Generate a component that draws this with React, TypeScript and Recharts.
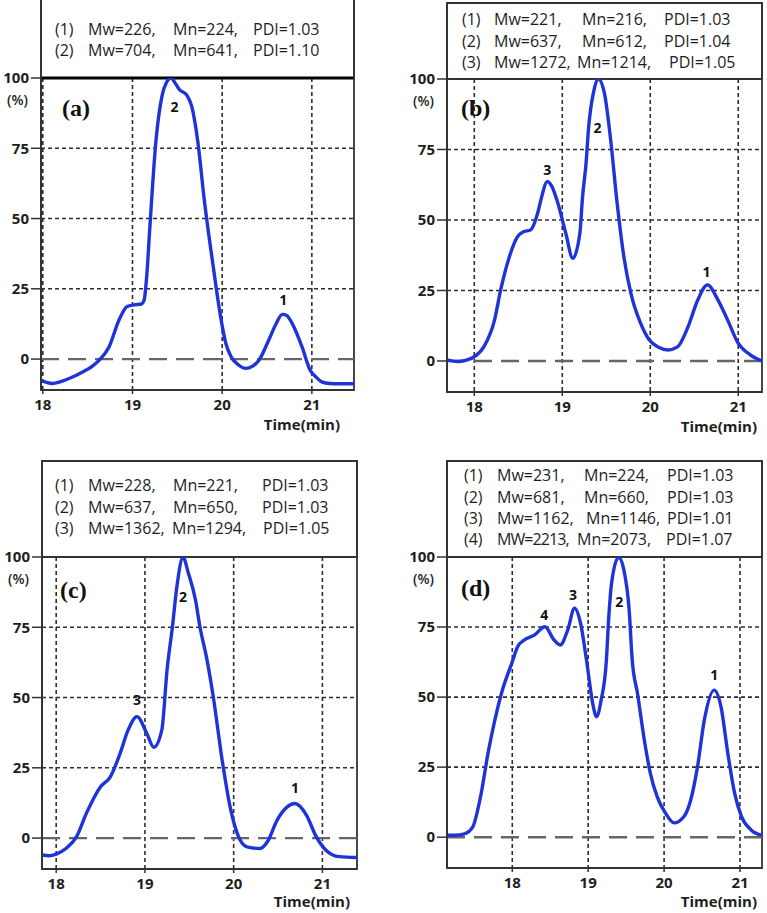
import React from "react";
import {
  LineChart,
  Line,
  XAxis,
  YAxis,
  CartesianGrid,
  ReferenceLine,
  ReferenceArea,
  ReferenceDot,
} from "recharts";

// ---- data ----

const timeA = [17.98, 18.05, 18.11, 18.2, 18.3, 18.45, 18.55, 18.63, 18.74, 18.85, 18.94, 19.02, 19.1, 19.13, 19.16, 19.19, 19.26, 19.33, 19.38, 19.43, 19.48, 19.52, 19.61, 19.66, 19.73, 19.8, 19.9, 19.97, 20.04, 20.1, 20.18, 20.26, 20.34, 20.41, 20.52, 20.6, 20.67, 20.72, 20.78, 20.89, 20.98, 21.05, 21.11, 21.2, 21.3, 21.47];
const signalA = [-7.5, -8.4, -8.7, -8.0, -6.8, -4.5, -2.6, -0.4, 4.4, 13.9, 18.7, 19.3, 19.6, 21, 30, 45, 77, 93.7, 98.5, 100, 98, 96, 93.7, 90, 77, 56.8, 33, 17.5, 5.7, 0.8, -2, -3.3, -2.5, -0.4, 6.8, 12.5, 15.9, 15.5, 12.7, 4.4, -3.9, -6.5, -8.1, -8.7, -8.8, -8.8];

const timeB = [17.69, 17.81, 17.9, 18.0, 18.11, 18.23, 18.3, 18.41, 18.49, 18.56, 18.64, 18.72, 18.76, 18.83, 18.88, 18.94, 19.04, 19.12, 19.2, 19.23, 19.27, 19.3, 19.36, 19.41, 19.48, 19.55, 19.62, 19.7, 19.78, 19.89, 19.99, 20.1, 20.2, 20.31, 20.43, 20.54, 20.65, 20.77, 20.88, 20.99, 21.14, 21.27];
const signalB = [0.4, -0.2, 0.2, 1.5, 5.1, 14.5, 25.2, 38, 44, 45.8, 46.5, 52.4, 57.5, 63.6, 62, 57, 45.3, 36.4, 45.3, 58, 70, 83, 96, 100, 94.8, 78.4, 57, 37, 24, 13.4, 7.4, 4.8, 3.9, 5, 12.2, 21.6, 27, 21.6, 14.5, 6.8, 2.1, 0];

const timeC = [17.84, 17.92, 18.0, 18.11, 18.23, 18.34, 18.5, 18.61, 18.72, 18.81, 18.91, 19.02, 19.1, 19.19, 19.25, 19.31, 19.36, 19.43, 19.49, 19.57, 19.62, 19.7, 19.77, 19.87, 19.96, 20.04, 20.15, 20.3, 20.38, 20.49, 20.6, 20.69, 20.82, 20.93, 21.04, 21.19, 21.39];
const signalC = [-6, -6.3, -5.7, -3.7, 0.5, 8.8, 18.3, 21.8, 30.1, 38.4, 43.2, 37.3, 32.3, 38.4, 60, 75.2, 89.4, 99.9, 94.2, 84.7, 75.2, 63.3, 50.3, 27.8, 11.1, 1.7, -3.1, -3.7, -1.3, 6.4, 11, 12.3, 8.2, 0.5, -4.3, -6.6, -6.9];

const timeD = [17.14, 17.25, 17.37, 17.48, 17.59, 17.68, 17.77, 17.87, 18.0, 18.07, 18.16, 18.29, 18.43, 18.55, 18.63, 18.73, 18.82, 18.9, 18.98, 19.06, 19.11, 19.17, 19.24, 19.27, 19.31, 19.4, 19.47, 19.54, 19.58, 19.65, 19.74, 19.82, 19.91, 20.02, 20.13, 20.26, 20.35, 20.44, 20.53, 20.66, 20.75, 20.84, 20.93, 21.02, 21.15, 21.29];
const signalD = [0.7, 0.7, 1.2, 3.7, 15.6, 29.9, 41.8, 52.5, 62.6, 68, 70.4, 72.1, 75.1, 70.4, 68.6, 73.9, 81.7, 76.3, 62.8, 47.7, 43, 48.8, 63.2, 78, 91, 99.9, 95.4, 81, 63.2, 51.3, 34.6, 22.7, 14.4, 8.5, 5.1, 7.3, 13.2, 25.1, 41.8, 52.5, 46.5, 29.9, 15.6, 7.3, 2.5, 0.7];

const peaksA = [
  { t: 19.47, v: 89.7, label: "2" },
  { t: 20.68, v: 21, label: "1" },
];
const peaksB = [
  { t: 18.83, v: 67.7, label: "3" },
  { t: 19.4, v: 82.6, label: "2" },
  { t: 20.64, v: 31.6, label: "1" },
];
const peaksC = [
  { t: 19.43, v: 85.8, label: "2" },
  { t: 18.91, v: 49.1, label: "3" },
  { t: 20.69, v: 17.8, label: "1" },
];
const peaksD = [
  { t: 18.42, v: 79.3, label: "4" },
  { t: 18.8, v: 86.4, label: "3" },
  { t: 19.41, v: 83.9, label: "2" },
  { t: 20.66, v: 57.9, label: "1" },
];

const legendA = [
  ["(1)", "Mw=226,", "Mn=224,", "PDI=1.03"],
  ["(2)", "Mw=704,", "Mn=641,", "PDI=1.10"],
];
const legendB = [
  ["(1)", "Mw=221,", "Mn=216,", "PDI=1.03"],
  ["(2)", "Mw=637,", "Mn=612,", "PDI=1.04"],
  ["(3)", "Mw=1272,", "Mn=1214,", "PDI=1.05"],
];
const legendC = [
  ["(1)", "Mw=228,", "Mn=221,", "PDI=1.03"],
  ["(2)", "Mw=637,", "Mn=650,", "PDI=1.03"],
  ["(3)", "Mw=1362,", "Mn=1294,", "PDI=1.05"],
];
const legendD = [
  ["(1)", "Mw=231,", "Mn=224,", "PDI=1.03"],
  ["(2)", "Mw=681,", "Mn=660,", "PDI=1.03"],
  ["(3)", "Mw=1162,", "Mn=1146,", "PDI=1.01"],
  ["(4)", "MW=2213,", "Mn=2073,", "PDI=1.07"],
];

const X_TICKS = [18, 19, 20, 21];
const Y_TICKS = [0, 25, 50, 75, 100];
const Y_DOMAIN: [number, number] = [-11, 100];

// ---- styling ----
const BLUE = "#1f34d8";
const INK = "#1e1e1e";
const FONT = "'Open Sans', sans-serif";

function zip(ts: number[], vs: number[]) {
  return ts.map((t, i) => ({ t, v: vs[i] }));
}

function YTick(props: any) {
  const { x, y, payload } = props;
  return (
    <g>
      <text x={x} y={y} dy="0.35em" textAnchor="end" fill={INK} fontSize={15} fontWeight={700} fontFamily={FONT}>
        {payload.value}
      </text>
      {payload.value === 100 && (
        <text x={x - 1} y={y + 22} dy="0.35em" textAnchor="end" fill={INK} fontSize={14} fontWeight={600} fontFamily={FONT}>
          (%)
        </text>
      )}
    </g>
  );
}

interface PanelProps {
  data: { t: number; v: number }[];
  peaks: { t: number; v: number; label: string }[];
  legend: string[][];
  tag: string;
  box: { left: number; top: number; width: number; height: number };
  plot: { l: number; t: number; r: number; b: number };
  xDomain: [number, number];
  legendTop: number;
  legendRows: number[];
  legendCols: number[][];
  tagPos: [number, number];
  timePos: [number, number];
  thickTop?: boolean;
}

function Panel(p: PanelProps) {
  const { box, plot } = p;
  const axisH = 30;
  return (
    <>
      <div style={{ position: "absolute", left: box.left, top: box.top }}>
        <LineChart
          width={box.width}
          height={box.height}
          data={p.data}
          margin={{
            top: plot.t - box.top,
            left: 0,
            right: box.left + box.width - plot.r,
            bottom: box.top + box.height - plot.b - axisH,
          }}
        >
          <CartesianGrid
            stroke="#2e2e2e"
            strokeWidth={1.6}
            strokeDasharray="4 3"
            horizontalValues={[25, 50, 75]}
            verticalValues={X_TICKS}
          />
          <ReferenceLine y={0} stroke="#666" strokeWidth={2.4} strokeDasharray="18 9" />
          <ReferenceArea
            x1={p.xDomain[0]}
            x2={p.xDomain[1]}
            y1={Y_DOMAIN[0]}
            y2={Y_DOMAIN[1]}
            fill="none"
            fillOpacity={0}
            stroke="#333"
            strokeWidth={1.8}
          />
          {p.thickTop && <ReferenceLine y={100} stroke="#000" strokeWidth={3} />}
          <XAxis
            dataKey="t"
            type="number"
            domain={p.xDomain}
            allowDataOverflow
            ticks={X_TICKS}
            interval={0}
            height={axisH}
            tickSize={4}
            tickMargin={5}
            axisLine={{ stroke: "#333", strokeWidth: 1.8 }}
            tickLine={{ stroke: "#333", strokeWidth: 1.5 }}
            tick={{ fill: INK, fontSize: 15, fontWeight: 700, fontFamily: FONT }}
          />
          <YAxis
            type="number"
            domain={Y_DOMAIN}
            allowDataOverflow
            ticks={Y_TICKS}
            interval={0}
            width={plot.l - box.left}
            tickSize={10}
            axisLine={{ stroke: "#333", strokeWidth: 1.8 }}
            tickLine={{ stroke: "#333", strokeWidth: 1.5 }}
            tick={(tp: any) => <YTick {...tp} />}
          />
          <Line
            type="monotone"
            dataKey="v"
            stroke={BLUE}
            strokeWidth={3.4}
            dot={false}
            isAnimationActive={false}
          />
          {p.peaks.map((pk) => (
            <ReferenceDot
              key={pk.label}
              x={pk.t}
              y={pk.v}
              r={0}
              fill="none"
              stroke="none"
              label={{ value: pk.label, position: "center", fill: "#111", fontSize: 14, fontWeight: 700, fontFamily: FONT }}
            />
          ))}
        </LineChart>
      </div>
      {/* legend box above the plot */}
      <div
        style={{
          position: "absolute",
          left: plot.l - 1,
          top: p.legendTop,
          width: plot.r - plot.l + 2,
          height: plot.t - p.legendTop + 1,
          border: "2px solid #333",
          borderBottom: "none",
          boxSizing: "border-box",
        }}
      />
      {p.legend.map((row, ri) =>
        row.map((cell, ci) => (
          <span
            key={`${ri}-${ci}`}
            style={{
              position: "absolute",
              left: p.legendCols[ri][ci],
              top: p.legendRows[ri] - 9,
              lineHeight: "18px",
              fontSize: 16,
              fontFamily: FONT,
              color: INK,
              whiteSpace: "nowrap",
              letterSpacing: cell.startsWith("MW") ? -0.9 : 0,
            }}
          >
            {cell}
          </span>
        ))
      )}
      <span
        style={{
          position: "absolute",
          left: p.tagPos[0],
          top: p.tagPos[1] - 14,
          lineHeight: "28px",
          fontSize: 24,
          fontWeight: 700,
          fontFamily: "'Liberation Serif', 'Times New Roman', serif",
          color: "#111",
        }}
      >
        {p.tag}
      </span>
      <span
        style={{
          position: "absolute",
          left: p.timePos[0] - 120,
          width: 120,
          textAlign: "right",
          top: p.timePos[1] - 7,
          lineHeight: "14px",
          fontSize: 15,
          fontWeight: 700,
          fontFamily: FONT,
          color: INK,
        }}
      >
        Time(min)
      </span>
    </>
  );
}

export default function App() {
  return (
    <div style={{ position: "absolute", left: 0, top: 0, width: 767, height: 913, background: "#fff", overflow: "hidden" }}>
      <Panel
        data={zip(timeA, signalA)}
        peaks={peaksA}
        legend={legendA}
        tag="(a)"
        box={{ left: 0, top: 0, width: 384, height: 450 }}
        plot={{ l: 41, t: 78, r: 354, b: 390 }}
        xDomain={[17.98, 21.47]}
        legendTop={-4}
        legendRows={[29, 50]}
        legendCols={[
          [55, 88, 173, 253],
          [55, 88, 173, 253],
        ]}
        tagPos={[62, 108]}
        timePos={[340, 424]}
        thickTop
      />
      <Panel
        data={zip(timeB, signalB)}
        peaks={peaksB}
        legend={legendB}
        tag="(b)"
        box={{ left: 384, top: 0, width: 383, height: 450 }}
        plot={{ l: 447, t: 79, r: 762, b: 392 }}
        xDomain={[17.69, 21.27]}
        legendTop={2}
        legendRows={[19, 41, 62]}
        legendCols={[
          [462, 494, 582, 664],
          [462, 494, 582, 664],
          [462, 494, 577, 669],
        ]}
        tagPos={[461, 108]}
        timePos={[757, 426]}
      />
      <Panel
        data={zip(timeC, signalC)}
        peaks={peaksC}
        legend={legendC}
        tag="(c)"
        box={{ left: 0, top: 450, width: 384, height: 463 }}
        plot={{ l: 42, t: 557, r: 357, b: 869 }}
        xDomain={[17.84, 21.39]}
        legendTop={460}
        legendRows={[485, 507, 528]}
        legendCols={[
          [55, 88, 173, 262],
          [55, 88, 173, 262],
          [55, 88, 172, 263],
        ]}
        tagPos={[60, 590]}
        timePos={[350, 901]}
      />
      <Panel
        data={zip(timeD, signalD)}
        peaks={peaksD}
        legend={legendD}
        tag="(d)"
        box={{ left: 384, top: 450, width: 383, height: 463 }}
        plot={{ l: 447, t: 557, r: 762, b: 868 }}
        xDomain={[17.14, 21.29]}
        legendTop={460}
        legendRows={[475, 497, 518, 539]}
        legendCols={[
          [464, 497, 584, 667],
          [464, 497, 584, 667],
          [464, 497, 586, 667],
          [464, 497, 577, 666],
        ]}
        tagPos={[461, 588]}
        timePos={[757, 901]}
      />
    </div>
  );
}
